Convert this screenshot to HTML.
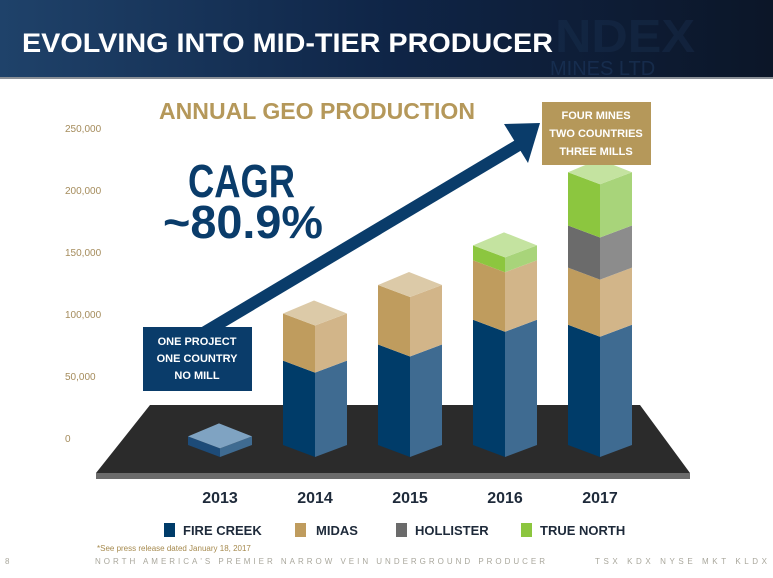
<!DOCTYPE html>
<html><head><meta charset="utf-8"><style>
body{margin:0;width:773px;height:578px;overflow:hidden;background:#fff;font-family:"Liberation Sans",sans-serif}
svg{display:block}
</style></head><body>
<svg id="chart" width="773" height="578" viewBox="0 0 773 578">
<defs>
<linearGradient id="hdr" x1="0" x2="1" y1="0" y2="0">
<stop offset="0" stop-color="#1f426a"/><stop offset="0.5" stop-color="#0f2547"/><stop offset="1" stop-color="#0c1628"/>
</linearGradient>
</defs>
<g>
<rect x="0" y="0" width="773" height="77" fill="url(#hdr)"/>
<rect x="0" y="77" width="773" height="2" fill="#8a8f96"/>
<text x="555" y="52" font-size="46" font-weight="bold" fill="#1d3556" opacity="0.35" textLength="140" lengthAdjust="spacingAndGlyphs">NDEX</text>
<text x="550" y="75" font-size="20" fill="#22406a" opacity="0.45">MINES LTD</text>
<text x="22" y="52" font-size="27" font-weight="bold" fill="#ffffff" textLength="531" lengthAdjust="spacingAndGlyphs">EVOLVING INTO MID-TIER PRODUCER</text>
</g>
<text x="159" y="119" font-size="23" font-weight="bold" fill="#b5985a" textLength="316" lengthAdjust="spacingAndGlyphs">ANNUAL GEO PRODUCTION</text>
<g id="yaxis"></g>
<g>
<polygon points="150,405 640,405 690,473 96,473" fill="#2b2b2b"/>
<rect x="96" y="473" width="594" height="6" fill="#6b6b6b"/>
</g>
<g id="bars"></g>
<g>
<line x1="200" y1="335" x2="522" y2="143" stroke="#0a3c6a" stroke-width="12"/>
<polygon points="540,123 504,124 528,163" fill="#0a3c6a"/>
</g>
<text x="188" y="197" font-size="46" font-weight="bold" fill="#0a3c6a" textLength="107" lengthAdjust="spacingAndGlyphs">CAGR</text>
<text x="163" y="238" font-size="46" font-weight="bold" fill="#0a3c6a" textLength="160" lengthAdjust="spacingAndGlyphs">~80.9%</text>
<g>
<rect x="143" y="327" width="109" height="64" fill="#0a3c6a"/>
<g font-size="11" font-weight="bold" fill="#fff" text-anchor="middle">
<text x="197" y="345">ONE PROJECT</text><text x="197" y="362">ONE COUNTRY</text><text x="197" y="379">NO MILL</text></g>
</g>
<g>
<rect x="542" y="102" width="109" height="63" fill="#b5985a"/>
<g font-size="11" font-weight="bold" fill="#fff" text-anchor="middle">
<text x="596" y="119">FOUR MINES</text><text x="596" y="137">TWO COUNTRIES</text><text x="596" y="155">THREE MILLS</text></g>
</g>
<g id="xaxis"></g>
<g font-size="13" font-weight="bold" fill="#1e2a3a">
<g><rect x="164" y="523" width="11" height="14" fill="#003c69"/><text x="183" y="535">FIRE CREEK</text></g>
<g><rect x="295" y="523" width="11" height="14" fill="#bf9c5e"/><text x="316" y="535">MIDAS</text></g>
<g><rect x="396" y="523" width="11" height="14" fill="#6b6b6b"/><text x="415" y="535">HOLLISTER</text></g>
<g><rect x="521" y="523" width="11" height="14" fill="#8cc63f"/><text x="540" y="535">TRUE NORTH</text></g>
</g>
<text x="97" y="551" font-size="8" fill="#a68a4e">*See press release dated January 18, 2017</text>
<text x="5" y="564" font-size="8" fill="#a9a79c">8</text>
<text x="95" y="564" font-size="8" fill="#a9a79c" textLength="450">NORTH AMERICA'S PREMIER NARROW VEIN UNDERGROUND PRODUCER</text>
<text x="595" y="564" font-size="8" fill="#a9a79c" textLength="172">TSX KDX   NYSE MKT KLDX</text>
</svg>
<script>
const years = ["2013","2014","2015","2016","2017"];
const fireCreek = [7000, 68000, 81000, 101000, 97000];
const midas = [0, 38000, 48000, 48000, 46000];
const hollister = [0, 0, 0, 0, 34000];
const trueNorth = [0, 0, 0, 12000, 43000];
const yTicks = [0, 50000, 100000, 150000, 200000, 250000];
const yTickLabels = ["0","50,000","100,000","150,000","200,000","250,000"];

const NS = "http://www.w3.org/2000/svg";
const base = 445, pxPer = 62/50000;
function yS(v){ return base - v*pxPer; }
function xS(i){ return 188 + i*95; }
function tickY(v){ return 438 - v*62/50000; }
const W1 = 32, W2 = 32, D = 12;
const colors = [
  {l:"#003c69", r:"#3f6b91", t:"#7a9ebd"},
  {l:"#bf9c5e", r:"#d2b589", t:"#dccaa8"},
  {l:"#6b6b6b", r:"#8c8c8c", t:"#b0b0b0"},
  {l:"#8cc63f", r:"#a8d47a", t:"#c4e3a0"}
];
const names = ["fire-creek","midas","hollister","true-north"];
function poly(g, pts, fill){
  const p = document.createElementNS(NS, "polygon");
  p.setAttribute("points", pts.map(a=>a.join(",")).join(" "));
  p.setAttribute("fill", fill);
  g.appendChild(p);
  return p;
}
const yax = document.getElementById("yaxis");
yTicks.forEach((v,i)=>{
  const t = document.createElementNS(NS,"text");
  
  
  t.setAttribute("x", 65); t.setAttribute("y", tickY(v)+4);
  t.setAttribute("font-size","10"); t.setAttribute("fill","#a58c5c");
  t.textContent = yTickLabels[i];
  yax.appendChild(t);
});
const bars = document.getElementById("bars");
const xax = document.getElementById("xaxis");
years.forEach((yr,i)=>{
  const x0 = xS(i), xm = x0+W1, x1 = xm+W2;
  const g = document.createElementNS(NS,"g");
  
  
  bars.appendChild(g);
  const series = [fireCreek[i], midas[i], hollister[i], trueNorth[i]];
  let cum = 0, topIdx = 0;
  series.forEach((v,k)=>{ if(v>0) topIdx=k; });
  series.forEach((v,k)=>{
    if(v<=0) return;
    const yb = yS(cum), yt = yS(cum+v);
    const seg = document.createElementNS(NS,"g");
    
    
    g.appendChild(seg);
    const c = (i===0) ? {l:"#1d4b78", r:"#3f6b91", t:"#7fa3c2"} : colors[k];
    poly(seg, [[x0,yt],[xm,yt+D],[xm,yb+D],[x0,yb]], c.l);
    poly(seg, [[xm,yt+D],[x1,yt],[x1,yb],[xm,yb+D]], c.r);
    if(k===topIdx) poly(seg, [[x0,yt],[xm-1,yt-D-1],[x1,yt],[xm,yt+D]], c.t);
    cum += v;
  });
  const t = document.createElementNS(NS,"text");
  
  
  t.setAttribute("x", xm); t.setAttribute("y", 503);
  t.setAttribute("text-anchor","middle"); t.setAttribute("font-size","16");
  t.setAttribute("font-weight","bold"); t.setAttribute("fill","#1e2a3a");
  t.textContent = yr;
  xax.appendChild(t);
});
</script>
</body></html>
